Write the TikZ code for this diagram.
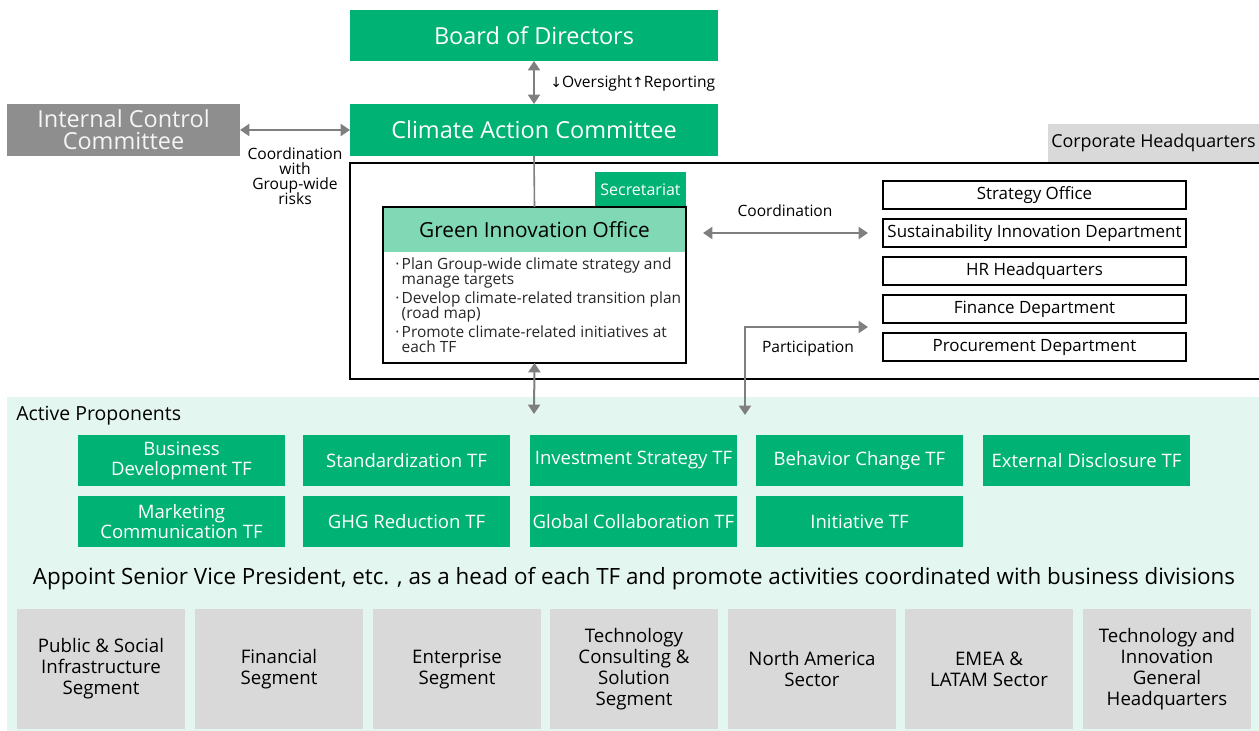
\documentclass[tikz,border=0pt]{standalone}
\usepackage{fontspec}
\setmainfont{Open Sans}
\newfontfamily\symfont{DejaVu Sans}
\usetikzlibrary{arrows.meta,calc}
\definecolor{tfgreen}{HTML}{00B274}
\definecolor{hdrgreen}{HTML}{80D8B4}
\definecolor{mintbg}{HTML}{E3F6EF}
\definecolor{iccgray}{HTML}{8E8E8E}
\definecolor{lgray}{HTML}{D9D9D9}
\definecolor{arrgray}{HTML}{7F7F7F}
\newcommand\fsBig{\fontsize{17.6}{16.5}\selectfont\lineskiplimit=-8pt}
\newcommand\fsGio{\fontsize{15.6}{15.6}\selectfont}
\newcommand\fsTF{\fontsize{13.9}{15}\selectfont\lineskiplimit=-8pt}
\newcommand\fsSeg{\fontsize{14}{15.75}\selectfont\lineskiplimit=-8pt}
\newcommand\fsDept{\fontsize{12.7}{12.7}\selectfont}
\newcommand\fsHQ{\fontsize{13.4}{13.4}\selectfont}
\newcommand\fsSmall{\fontsize{11.7}{11.25}\selectfont\lineskiplimit=-8pt}
\newcommand\fsBullet{\fontsize{11.6}{11.25}\selectfont\lineskiplimit=-8pt}
\newcommand\fsSecr{\fontsize{12}{12}\selectfont}
\newcommand\fsAppoint{\fontsize{16.8}{16.8}\selectfont}
\newcommand\fsAP{\fontsize{14.6}{14.6}\selectfont}
\newcommand\bul{\textperiodcentered\hspace{0.15em}}
\begin{document}
\begin{tikzpicture}[x=0.75pt,y=-0.75pt,
  wh/.style 2 args={minimum width=#1*0.75pt, minimum height=#2*0.75pt},
  box/.style={rectangle, inner sep=0pt, outer sep=0pt, anchor=north west, align=center},
  greenbox/.style={box, fill=tfgreen, text=white},
  tfbox/.style={greenbox, wh={207}{51}, font=\fsTF},
  segbox/.style={box, fill=lgray, wh={168}{120}, font=\fsSeg},
  deptbox/.style={box, draw=black, line width=1.1pt, fill=white, wh={303}{28}, font=\fsDept},
  lbl/.style={inner sep=0pt, align=center, font=\fsSmall},
  arr/.style={draw=arrgray, line width=1.5pt, {Triangle[width=9pt,length=7pt]}-{Triangle[width=9pt,length=7pt]}},
  link/.style={draw=arrgray, line width=1.2pt}
]
\useasboundingbox (0,0) rectangle (1259,731);

% background of active proponents
\fill[mintbg] (7,397) rectangle (1259,731);

% top boxes
\node[greenbox, wh={368}{51}, font=\fsBig] (board) at (350,10) {Board of Directors};
\node[greenbox, wh={368}{52}, font=\fsBig] (cac) at (350,104) {Climate Action Committee};
\node[box, fill=iccgray, text=white!92!gray, wh={233}{52}, font=\fsBig] (icc) at (7,104) {Internal Control\\Committee};
\node[box, fill=lgray, wh={211}{38}, font=\fsHQ] (corphq) at (1048,124) {Corporate Headquarters};

% corporate headquarters frame
\draw[line width=1.2pt] (350,163) rectangle (1265,379);

% green innovation office
\node[greenbox, wh={91}{35}, font=\fsSecr] (secr) at (595,172) {Secretariat};
\node[box, fill=hdrgreen, wh={303}{45}, font=\fsGio] (giohead) at (383,207) {Green Innovation Office};
\node[box, draw=black, line width=1.1pt, wh={303}{156}] (gio) at (383,207) {};
\node[anchor=north west, inner sep=0pt, align=left, font=\fsBullet, text=black!85] (giotext) at (395,257)
  {\bul Plan Group-wide climate strategy and\\
   \hphantom{\bul}manage targets\\[3pt]
   \bul Develop climate-related transition plan\\
   \hphantom{\bul}(road map)\\[3pt]
   \bul Promote climate-related initiatives at\\
   \hphantom{\bul}each TF};

% departments
\node[deptbox] (strat) at (883,181) {Strategy Office};
\node[deptbox] (sust) at (883,219) {Sustainability Innovation Department};
\node[deptbox] (hr) at (883,257) {HR Headquarters};
\node[deptbox] (fin) at (883,295) {Finance Department};
\node[deptbox] (proc) at (883,333) {Procurement Department};

% connectors
\draw[arr] (board.south) -- (cac.north);
\node[lbl, anchor=west] (overs) at (550,83) {{\symfont\fontsize{10.5}{10}\selectfont ↓}Oversight{\symfont\fontsize{10.5}{10}\selectfont ↑}Reporting};
\draw[arr] (icc.east) -- (cac.west);
\node[lbl] (coordrisk) at (295,176) {Coordination\\with\\Group-wide\\risks};
\draw[link] (cac.south) -- (gio.north);

\coordinate (coA) at (703,233);
\coordinate (coB) at (868,233);
\draw[arr] (coA) -- (coB);
\node[lbl] (coordlbl) at (785,211) {Coordination};

\coordinate (paA) at (745,415);
\coordinate (paB) at (868,327);
\draw[arr] (paA) |- (paB);
\node[lbl] (partlbl) at (808,349) {Participation};

\coordinate (tfTop) at (534,414);
\draw[arr] (gio.south) -- (tfTop);

% active proponents
\node[anchor=west, inner sep=0pt, font=\fsAP] (aplbl) at (16,416) {Active Proponents};

\node[tfbox] (tf1) at (78,435) {Business\\Development TF};
\node[tfbox] (tf2) at (303,435) {Standardization TF};
\node[tfbox] (tf3) at (530,435) {Investment Strategy TF};
\node[tfbox] (tf4) at (756,435) {Behavior Change TF};
\node[tfbox] (tf5) at (983,435) {External Disclosure TF};
\node[tfbox] (tf6) at (78,496) {Marketing\\Communication TF};
\node[tfbox] (tf7) at (303,496) {GHG Reduction TF};
\node[tfbox] (tf8) at (530,496) {Global Collaboration TF};
\node[tfbox] (tf9) at (756,496) {Initiative TF};

\node[inner sep=0pt, font=\fsAppoint] (appoint) at (634,579) {Appoint Senior Vice President, etc. , as a head of each TF and promote activities coordinated with business divisions};

% segments
\node[segbox] (s1) at (17,609) {Public \& Social\\Infrastructure\\Segment};
\node[segbox] (s2) at (195,609) {Financial\\Segment};
\node[segbox] (s3) at (373,609) {Enterprise\\Segment};
\node[segbox] (s4) at (550,609) {Technology\\Consulting \&\\Solution\\Segment};
\node[segbox] (s5) at (728,609) {North America\\Sector};
\node[segbox] (s6) at (905,609) {EMEA \&\\LATAM Sector};
\node[segbox] (s7) at (1083,609) {Technology and\\Innovation\\General\\Headquarters};
\end{tikzpicture}
\end{document}
